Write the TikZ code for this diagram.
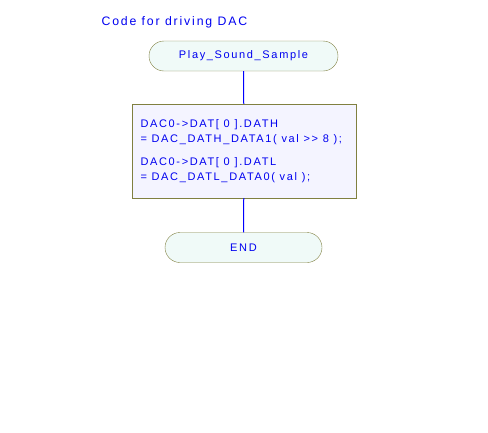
\documentclass[tikz,border=0pt]{standalone}
\usepackage{fontspec}
\setmainfont{Liberation Sans}[LetterSpace=15,Ligatures=NoCommon]
\usepackage{tikz}
\usetikzlibrary{positioning,shapes.misc}
\definecolor{txtblue}{RGB}{0,0,240}
\definecolor{olive}{RGB}{128,128,64}
\definecolor{termfill}{RGB}{240,250,248}
\definecolor{boxfill}{RGB}{244,244,255}

\tikzset{
  terminal/.style={rounded rectangle, draw=olive, fill=termfill, text=txtblue,
    minimum width=#1, minimum height=30pt, inner sep=0pt, font=\fontsize{11}{12}\selectfont},
  process/.style={rectangle, draw=olive, fill=boxfill,
    minimum width=224pt, minimum height=94pt, inner sep=0pt},
  code/.style={anchor=west, text=txtblue, align=left, font=\fontsize{11}{15}\selectfont},
  flow/.style={draw=blue, line width=1pt}
}

\begin{document}
\begin{tikzpicture}[x=1pt,y=-1pt]
  \useasboundingbox (0,0) rectangle (488,432);

  % title
  \node[anchor=west, text=txtblue, font=\fontsize{12.3}{13}\selectfont] (title) at (98,22) {Code for driving DAC};

  % flow chart
  \node[terminal=189pt] (start) at (243.5,56) {Play\_Sound\_Sample};
  \node[process] (dac) at (244,151) {};
  \node[terminal=157pt] (stop) at (243.5,247.5) {END};

  % box text
  \node[code] (hi) at (137,132.5)
    {DAC0-{>}DAT[ 0 ].DATH\\= DAC\_DATH\_DATA1( val {>}{>} 8 );};
  \node[code] (lo) at (137,170.5)
    {DAC0-{>}DAT[ 0 ].DATL\\= DAC\_DATL\_DATA0( val );};

  % connectors
  \draw[flow] (start) -- (dac);
  \draw[flow] (dac) -- (stop);
\end{tikzpicture}
\end{document}
